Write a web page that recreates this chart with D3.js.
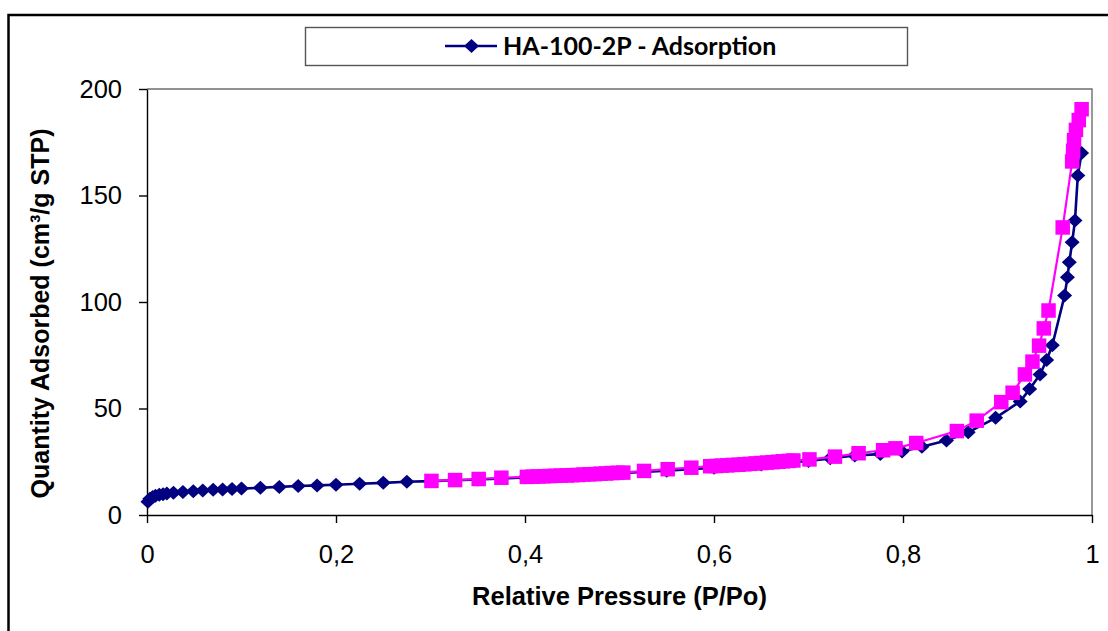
<!DOCTYPE html>
<html>
<head>
<meta charset="utf-8">
<script src="https://cdn.jsdelivr.net/npm/d3@7/dist/d3.min.js"></script>
<style>
  html, body { margin: 0; padding: 0; background: #fff; }
  svg { display: block; }
</style>
</head>
<body>
<svg id="chart" width="1108" height="631"></svg>
<script>
// Nitrogen isotherm, sample HA-100-2P
const seriesName = "HA-100-2P - Adsorption";
const xTickValues = [0, 0.2, 0.4, 0.6, 0.8, 1];
const yTickValues = [0, 50, 100, 150, 200];
const xTitle = "Relative Pressure (P/Po)";
const yTitle = "Quantity Adsorbed (cm\u00B3/g STP)";

// Adsorption branch: relative pressure and quantity adsorbed
const adsP = [0.001, 0.003, 0.006, 0.009, 0.013, 0.017, 0.021, 0.028, 0.038, 0.049,
  0.059, 0.070, 0.080, 0.090, 0.100, 0.120, 0.140, 0.160, 0.180, 0.200,
  0.225, 0.250, 0.275, 0.300, 0.350, 0.400, 0.450, 0.500, 0.550, 0.600,
  0.650, 0.700, 0.723, 0.749, 0.776, 0.799, 0.820, 0.846, 0.869, 0.898,
  0.924, 0.934, 0.945, 0.952, 0.958, 0.971, 0.974, 0.976, 0.979, 0.982,
  0.985, 0.989];
const adsQ = [6.2, 7.6, 8.5, 9.0, 9.5, 9.8, 10.1, 10.4, 10.8, 11.2,
  11.5, 11.8, 12.0, 12.2, 12.4, 12.8, 13.2, 13.6, 13.9, 14.2,
  14.7, 15.1, 15.6, 15.9, 16.7, 17.6, 18.6, 19.6, 20.8, 22.2,
  23.7, 25.4, 26.6, 27.9, 28.6, 29.8, 32.0, 35.0, 38.8, 45.6,
  53.3, 59.1, 66.0, 72.8, 79.7, 103.0, 111.6, 118.7, 128.0, 138.3,
  159.4, 170.0];

// Desorption branch: relative pressure and quantity adsorbed
const desP = [0.989, 0.986, 0.983, 0.981, 0.980, 0.979, 0.969, 0.954, 0.949, 0.944,
  0.937, 0.929, 0.916, 0.904, 0.878, 0.857, 0.814, 0.792, 0.779, 0.753,
  0.728, 0.701, 0.684, 0.679, 0.673, 0.668, 0.662, 0.656, 0.650, 0.644,
  0.638, 0.632, 0.626, 0.620, 0.614, 0.608, 0.602, 0.596, 0.576, 0.551,
  0.526, 0.504, 0.498, 0.492, 0.486, 0.480, 0.474, 0.468, 0.462, 0.456,
  0.450, 0.444, 0.438, 0.432, 0.426, 0.420, 0.414, 0.408, 0.402, 0.375,
  0.351, 0.326, 0.301];
const desQ = [190.5, 185.4, 180.8, 176.0, 171.0, 166.0, 135.0, 96.0, 87.6, 79.5,
  72.0, 66.0, 57.4, 53.0, 44.3, 39.4, 33.8, 31.3, 30.4, 29.0,
  27.4, 26.1, 25.6, 25.4, 25.2, 25.0, 24.8, 24.6, 24.4, 24.2,
  24.0, 23.8, 23.6, 23.5, 23.3, 23.2, 23.0, 22.9, 22.2, 21.5,
  20.7, 19.9, 19.8, 19.7, 19.5, 19.4, 19.2, 19.1, 19.0, 18.8,
  18.7, 18.6, 18.5, 18.4, 18.3, 18.2, 18.1, 18.0, 17.9, 17.5,
  16.9, 16.4, 16.0];

const NAVY = "#000080";
const MAGENTA = "#FF00FF";
const AXIS_FONT = "'Liberation Sans', Arial, sans-serif";

const svg = d3.select("#chart");

// outer chart frame (runs past the right and bottom edges)
svg.append("rect")
  .attr("x", 8.5).attr("y", 15)
  .attr("width", 1120).attr("height", 640)
  .attr("fill", "#fff")
  .attr("stroke", "#000").attr("stroke-width", 2.5);

const plot = { left: 147, right: 1092, top: 89, bottom: 515 };

const x = d3.scaleLinear().domain([0, 1]).range([plot.left, plot.right]);
const y = d3.scaleLinear().domain([0, 200]).range([plot.bottom, plot.top]);

// plot area frame: grey top and right edges
svg.append("path")
  .attr("d", `M${plot.left},${plot.top}H${plot.right}V${plot.bottom}`)
  .attr("fill", "none")
  .attr("stroke", "#6e6e6e").attr("stroke-width", 1.4);

const fmtX = d => (d === 0 || d === 1) ? String(d) : d.toFixed(1).replace(".", ",");

const xAxis = svg.append("g")
  .attr("transform", `translate(0,${plot.bottom})`)
  .call(d3.axisBottom(x).tickValues(xTickValues).tickFormat(fmtX)
    .tickSizeInner(8).tickSizeOuter(0).tickPadding(22));

const yAxis = svg.append("g")
  .attr("transform", `translate(${plot.left},0)`)
  .call(d3.axisLeft(y).tickValues(yTickValues).tickFormat(d3.format("d"))
    .tickSizeInner(8).tickSizeOuter(0).tickPadding(17));

[xAxis, yAxis].forEach(g => {
  g.selectAll("path, line").attr("stroke", "#000").attr("stroke-width", 1.4);
  g.selectAll("text")
    .attr("fill", "#000")
    .style("font-family", AXIS_FONT)
    .style("font-size", "25.5px");
});

// axis titles
svg.append("text")
  .attr("x", (plot.left + plot.right) / 2)
  .attr("y", 605)
  .attr("text-anchor", "middle")
  .style("font-family", AXIS_FONT)
  .style("font-size", "25.5px")
  .style("font-weight", "bold")
  .text(xTitle);

svg.append("text")
  .attr("transform", `translate(49,${(130 + 497) / 2}) rotate(-90)`)
  .attr("text-anchor", "middle")
  .style("font-family", AXIS_FONT)
  .style("font-size", "25px")
  .style("font-weight", "bold")
  .text(yTitle);

// series
const ads = adsP.map((p, i) => ({ p, q: adsQ[i] }));
const des = desP.map((p, i) => ({ p, q: desQ[i] }));

const line = d3.line().x(d => x(d.p)).y(d => y(d.q));
const diamond = (cx, cy, rx, ry) => `M${cx},${cy - ry}L${cx + rx},${cy}L${cx},${cy + ry}L${cx - rx},${cy}Z`;

svg.append("path")
  .datum(ads)
  .attr("d", line)
  .attr("fill", "none")
  .attr("stroke", NAVY).attr("stroke-width", 2.6);

svg.append("g").selectAll("path")
  .data(ads)
  .join("path")
  .attr("d", d => diamond(x(d.p), y(d.q), 7.5, 7))
  .attr("fill", NAVY);

svg.append("path")
  .datum(des)
  .attr("d", line)
  .attr("fill", "none")
  .attr("stroke", MAGENTA).attr("stroke-width", 2.2);

const sq = 14.5;
svg.append("g").selectAll("rect")
  .data(des)
  .join("rect")
  .attr("x", d => x(d.p) - sq / 2)
  .attr("y", d => y(d.q) - sq / 2)
  .attr("width", sq).attr("height", sq)
  .attr("fill", MAGENTA);

// legend
const legend = svg.append("g");
legend.append("rect")
  .attr("x", 305.5).attr("y", 27.5)
  .attr("width", 602).attr("height", 38)
  .attr("fill", "#fff")
  .attr("stroke", "#555").attr("stroke-width", 1.4);
legend.append("line")
  .attr("x1", 445).attr("x2", 497)
  .attr("y1", 46).attr("y2", 46)
  .attr("stroke", NAVY).attr("stroke-width", 2.6);
legend.append("path")
  .attr("d", diamond(471.5, 46, 7.5, 7))
  .attr("fill", NAVY);
legend.append("text")
  .attr("x", 503).attr("y", 55)
  .style("font-family", "Lato, 'Open Sans', sans-serif")
  .style("font-size", "25px")
  .style("font-weight", "bold")
  .attr("fill", "#000")
  .text(seriesName);
</script>
</body>
</html>
